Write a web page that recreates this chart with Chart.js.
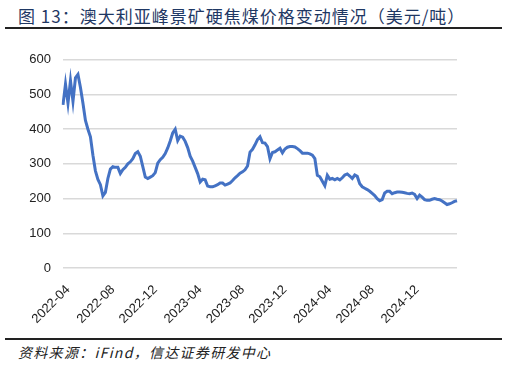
<!DOCTYPE html>
<html>
<head>
<meta charset="utf-8">
<script src="https://cdn.jsdelivr.net/npm/chart.js@4"></script>
<style>
  body { margin: 0; background: #fff; }
  #wrap { position: relative; width: 507px; height: 365px; overflow: hidden; }
  #title {
    position: absolute; left: 18px; top: 3px;
    font-family: "Noto Sans CJK SC", sans-serif; font-size: 17px;
    color: #1f3864; white-space: nowrap; letter-spacing: 1px;
  }
  .rule { position: absolute; left: 5px; width: 497px; height: 2px; background: #222; }
  #source {
    position: absolute; left: 18px; top: 342px;
    font-family: "Noto Sans CJK SC", sans-serif; font-size: 14px;
    font-style: italic; color: #222; white-space: nowrap; letter-spacing: 1.3px;
  }
  #box { position: absolute; left: 0; top: 40px; width: 507px; height: 295px; }
</style>
</head>
<body>
<div id="wrap">
  <div id="title">图 13：澳大利亚峰景矿硬焦煤价格变动情况（美元/吨）</div>
  <div class="rule" style="top:27px"></div>
  <div id="box"><canvas id="priceChart"></canvas></div>
  <div class="rule" style="top:338px"></div>
  <div id="source">资料来源：iFind，信达证券研发中心</div>
</div>
<script>
// weekly prices (USD/t), first week = 2022-03-18
const startDate = "2022-03-18";
const prices = [
  470, 530, 475, 540, 480, 548, 558, 520, 475, 425,
  400, 378, 325, 280, 255, 240, 208, 218, 258, 285,
  292, 290, 290, 272, 283, 290, 300, 306, 315, 330,
  335, 322, 292, 262, 258, 262, 266, 275, 302, 312,
  319, 330, 346, 366, 389, 400, 367, 380, 377, 365,
  347, 322, 308, 290, 272, 248, 256, 254, 236, 234,
  234, 237, 240, 245, 245, 239, 242, 245, 252, 260,
  266, 273, 277, 283, 294, 334, 342, 355, 370, 378,
  361, 360, 350, 315, 333, 335, 340, 345, 332, 343,
  348, 350, 350, 349, 344, 338, 331, 331, 331, 329,
  325, 315, 267, 263, 250, 237, 267, 256, 258, 254,
  258, 254, 260, 268, 271, 265, 258, 268, 264, 243,
  234, 230, 226, 221, 215, 209, 200, 194, 197, 216,
  221, 221, 214, 217, 219, 219, 218, 217, 215, 214,
  216, 212, 200, 210, 204, 197, 195, 195, 198, 200,
  198, 197, 193, 188, 183, 185, 188, 192, 194
];
const tickLabels = ["2022-04", "2022-08", "2022-12", "2023-04", "2023-08",
  "2023-12", "2024-04", "2024-08", "2024-12"];
const yTicks = [0, 100, 200, 300, 400, 500, 600];

// one weekly date per price
const dates = [];
const d0 = new Date(startDate + "T00:00:00Z");
for (let i = 0; i < prices.length; i++) {
  const d = new Date(d0.getTime() + i * 7 * 86400000);
  dates.push(d.toISOString().slice(0, 7));
}
// first week of each labelled month
const tickIdx = tickLabels.map((m) => dates.indexOf(m));

new Chart(document.getElementById("priceChart"), {
  type: "line",
  data: {
    labels: dates,
    datasets: [{
      data: prices,
      borderColor: "#4472c4",
      borderWidth: 3,
      pointRadius: 0,
      tension: 0,
    }],
  },
  options: {
    responsive: true,
    maintainAspectRatio: false,
    animation: false,
    layout: { padding: { top: 12, right: 50, left: 0, bottom: 0 } },
    plugins: { legend: { display: false }, tooltip: { enabled: false } },
    scales: {
      x: {
        grid: { display: false },
        border: { display: false },
        afterBuildTicks: (axis) => {
          axis.ticks = tickIdx.map((i) => ({ value: i }));
        },
        afterFit: (axis) => { axis.height = 67; },
        ticks: {
          autoSkip: false,
          minRotation: 45,
          maxRotation: 45,
          padding: 6,
          color: "#222",
          font: { family: "'Liberation Sans', Arial, sans-serif", size: 13 },
          callback: function (value) { return this.getLabelForValue(value); },
        },
      },
      y: {
        min: 0,
        max: 600,
        afterBuildTicks: (axis) => {
          axis.ticks = yTicks.map((v) => ({ value: v }));
        },
        afterFit: (axis) => { axis.width = 63; },
        grid: { color: "#d9d9d9", lineWidth: 1.5, drawTicks: false },
        border: { display: false },
        ticks: {
          padding: 12,
          color: "#222",
          font: { family: "'Liberation Sans', Arial, sans-serif", size: 13 },
        },
      },
    },
  },
});
</script>
</body>
</html>
